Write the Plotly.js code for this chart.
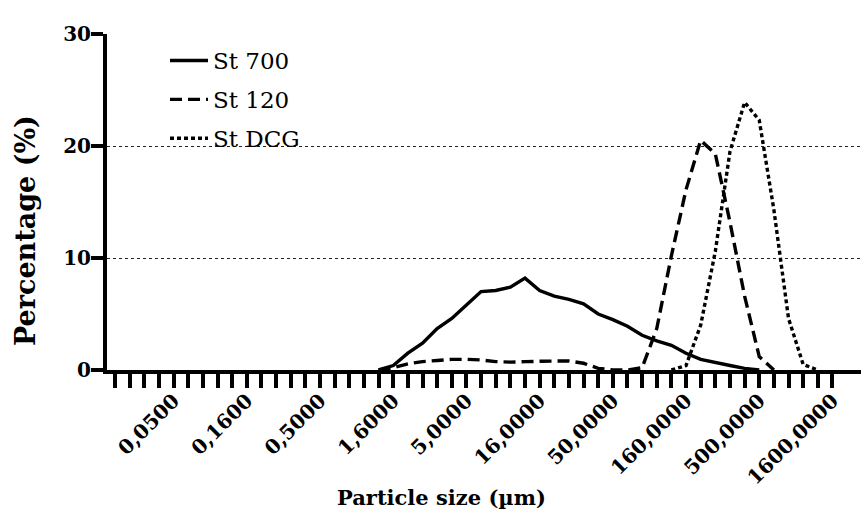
<!DOCTYPE html>
<html>
<head>
<meta charset="utf-8">
<script src="https://cdn.plot.ly/plotly-3.0.1.min.js"></script>
<style>html,body{margin:0;padding:0;background:#fff;}#chart{width:862px;height:511px;}</style>
</head>
<body>
<div id="chart"></div>
<script>
// Particle size classes (µm)
const sizes = [0.02,0.025,0.0315,0.04,0.05,0.063,0.08,0.1,0.125,0.16,
  0.2,0.25,0.315,0.4,0.5,0.63,0.8,1,1.25,1.6,
  2,2.5,3.15,4,5,6.3,8,10,12.5,16,
  20,25,31.5,40,50,63,80,100,125,160,
  200,250,315,400,500,630,800,1000,1250,1600];
const tickLabels = ["0,0500","0,1600","0,5000","1,6000","5,0000","16,0000","50,0000","160,0000","500,0000","1600,0000"];
const seriesNames = ["St 700","St 120","St DCG"];
// Percentage per size class (null = no curve drawn, hidden under the axis in the original)
const N = null;
const st700 = [N,N,N,N,N,N,N,N,N,N, N,N,N,N,N,N,N,N,0,0.4,
  1.5,2.4,3.7,4.6,5.8,7.0,7.1,7.4,8.2,7.1,
  6.6,6.3,5.9,5.0,4.5,3.9,3.1,2.6,2.2,1.5,
  0.95,0.65,0.4,0.15,0,N,N,N,N,N];
const st120 = [N,N,N,N,N,N,N,N,N,N, N,N,N,N,N,N,N,N,0,0.2,
  0.55,0.75,0.85,0.95,0.95,0.9,0.75,0.7,0.75,0.8,
  0.8,0.8,0.6,0.15,0,0,0.2,3.7,10.2,16.1,
  20.5,19.3,13.2,6.6,1.2,0,N,N,N,N];
const stDCG = [N,N,N,N,N,N,N,N,N,N, N,N,N,N,N,N,N,N,N,N,
  N,N,N,N,N,N,N,N,N,N,
  N,N,N,N,N,N,N,N,0,0.4,
  4.0,10.6,19.5,23.9,22.3,14.3,4.6,0.5,0,N];

const cats = sizes.map(s => s.toFixed(4).replace('.', ','));
const tickText = cats.map(c => tickLabels.includes(c) ? c : "");

const serif = "DejaVu Serif, Liberation Serif, serif";
const dashes = ["solid", "12px,6px", "4px,3px"];
const values = [st700, st120, stDCG];

const traces = seriesNames.map((n, k) => ({
  type: "scatter", mode: "lines", name: n, x: cats, y: values[k],
  legendgroup: "g" + k, connectgaps: false,
  line: {color: "#000", width: 3.4, dash: dashes[k]},
  cliponaxis: false
}));

const L = 107, T = 34, W = 754, H = 336;
const layout = {
  width: 862, height: 511,
  margin: {l: L, r: 862 - L - W, t: T, b: 511 - T - H, pad: 0},
  paper_bgcolor: "#fff", plot_bgcolor: "#fff",
  showlegend: true,
  legend: {x: (165 - L) / W, y: (370 - 39) / H, xanchor: "left", yanchor: "top",
    font: {family: serif, size: 23, color: "#000"}, bgcolor: "rgba(0,0,0,0)",
    tracegroupgap: 6, borderwidth: 0, itemwidth: 38},
  xaxis: {type: "category", categoryorder: "array", categoryarray: cats,
    range: [-0.55, 50.95], tickmode: "array", tickvals: cats, ticktext: tickText,
    tickangle: -45, ticks: "outside", ticklen: 14, tickwidth: 4, tickcolor: "#000",
    ticklabelstandoff: -7,
    showline: true, linewidth: 4, linecolor: "#000", showgrid: false, zeroline: false,
    tickfont: {family: serif, size: 20, color: "#000", weight: "bold"},
    automargin: false, fixedrange: true},
  yaxis: {range: [0, 30], tickvals: [0, 10, 20, 30], ticks: "outside", ticklen: 12,
    tickwidth: 3.5, tickcolor: "#000", showline: true, linewidth: 4, linecolor: "#000",
    ticklabelstandoff: -4,
    showgrid: true, gridcolor: "#222", gridwidth: 1, griddash: "dot", zeroline: false,
    tickfont: {family: serif, size: 20, color: "#000", weight: "bold"},
    automargin: false, fixedrange: true},
  annotations: [
    {text: "Percentage (%)", xref: "paper", yref: "paper",
     x: (25 - L) / W, y: (370 - 231) / H, xanchor: "center", yanchor: "middle",
     textangle: -90, showarrow: false,
     font: {family: serif, size: 27, color: "#000", weight: "bold"}},
    {text: "Particle size (µm)", xref: "paper", yref: "paper",
     x: (441 - L) / W, y: (370 - 497) / H, xanchor: "center", yanchor: "middle",
     showarrow: false,
     font: {family: serif, size: 21, color: "#000", weight: "bold"}}
  ]
};

Plotly.newPlot("chart", traces, layout, {displayModeBar: false, staticPlot: true});
</script>
</body>
</html>
